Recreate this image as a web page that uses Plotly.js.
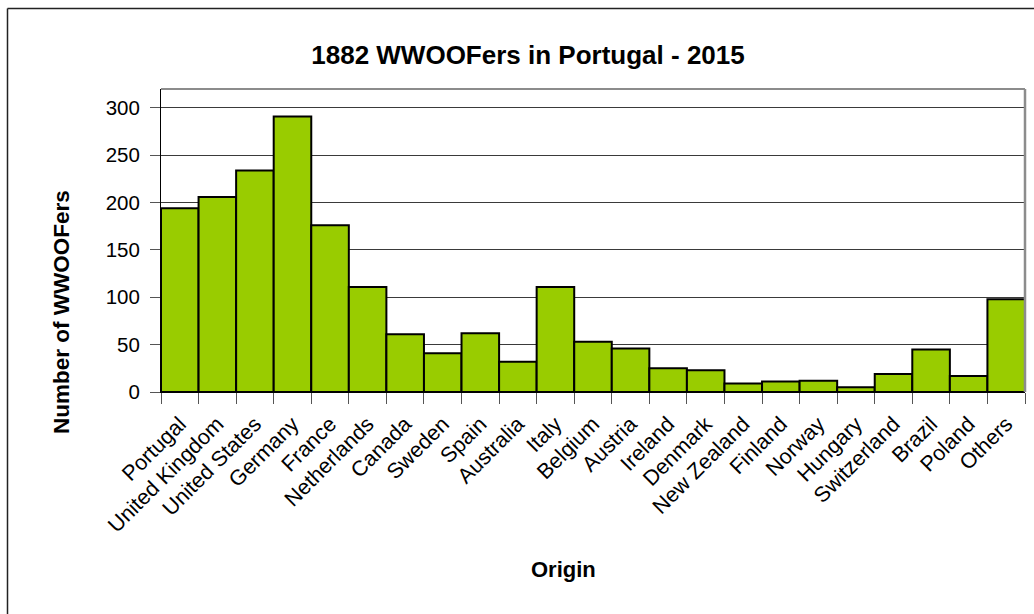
<!DOCTYPE html>
<html>
<head>
<meta charset="utf-8">
<script src="https://cdn.plot.ly/plotly-3.0.1.min.js"></script>
<style>html,body{margin:0;padding:0;background:#fff;}#chart{width:1034px;height:614px;}</style>
</head>
<body>
<div id="chart"></div>
<script>
const countries = ["Portugal","United Kingdom","United States","Germany","France","Netherlands","Canada","Sweden","Spain","Australia","Italy","Belgium","Austria","Ireland","Denmark","New Zealand","Finland","Norway","Hungary","Switzerland","Brazil","Poland","Others"];
const wwoofers = [194,206,234,291,176,111,61,41,62,32,111,53,46,25,23,9,11,12,5,19,45,17,98];
const yTicks = [0,50,100,150,200,250,300];

const W = 1034, H = 614;
const L = 161, R = 9, T = 89, B = 222;
const pw = W - L - R, ph = H - T - B;
const px = x => (x - L) / pw;
const py = y => (H - B - y) / ph;
const FONT = "Liberation Sans, Arial, sans-serif";

const trace = {
  type: "bar",
  x: countries,
  y: wwoofers,
  marker: {color: "#99cc00", line: {color: "#000000", width: 2}},
  hoverinfo: "x+y"
};

const layout = {
  width: W, height: H,
  margin: {l: L, r: R, t: T, b: B, pad: 0},
  paper_bgcolor: "#ffffff",
  plot_bgcolor: "#ffffff",
  showlegend: false,
  bargap: 0,
  font: {family: FONT, color: "#000000", size: 20},
  title: {
    text: "<b>1882 WWOOFers in Portugal - 2015</b>",
    font: {family: FONT, size: 26, color: "#000000"},
    xref: "container", yref: "container",
    x: 528 / W, y: 1 - 55 / H, xanchor: "center", yanchor: "middle"
  },
  xaxis: {
    type: "category",
    tickson: "boundaries",
    ticks: "outside", ticklen: 11, tickwidth: 1, tickcolor: "#555555",
    tickangle: -45,
    ticklabelstandoff: 10,
    tickfont: {family: FONT, size: 21.5, color: "#000000"},
    showgrid: false,
    showline: true, linecolor: "#000000", linewidth: 1,
    zeroline: false,
    fixedrange: true
  },
  yaxis: {
    range: [0, 320],
    tickvals: yTicks,
    ticktext: yTicks.map(String),
    ticks: "outside", ticklen: 10, tickwidth: 1, tickcolor: "#555555",
    ticklabelstandoff: 6,
    tickfont: {family: FONT, size: 20.5, color: "#000000"},
    showgrid: true, gridcolor: "#3a3a3a", gridwidth: 1,
    showline: true, linecolor: "#000000", linewidth: 1,
    zeroline: false,
    fixedrange: true
  },
  shapes: [
    {type: "line", xref: "paper", yref: "paper", x0: px(7.5), x1: px(1040), y0: py(8.5), y1: py(8.5), line: {color: "#222222", width: 1.5}},
    {type: "line", xref: "paper", yref: "paper", x0: px(7.5), x1: px(7.5), y0: py(8.5), y1: py(620), line: {color: "#222222", width: 1.5}},
    {type: "line", xref: "paper", yref: "paper", x0: 0, x1: 1, y0: 1, y1: 1, line: {color: "#8c8c8c", width: 2}},
    {type: "line", xref: "paper", yref: "paper", x0: 1, x1: 1, y0: 0, y1: 1, line: {color: "#8c8c8c", width: 2.5}}
  ],
  annotations: [
    {text: "<b>Number of WWOOFers</b>", xref: "paper", yref: "paper", x: px(61), y: py(312),
     textangle: -90, showarrow: false, xanchor: "center", yanchor: "middle",
     font: {family: FONT, size: 22.5, color: "#000000"}},
    {text: "<b>Origin</b>", xref: "paper", yref: "paper", x: px(563), y: py(569),
     showarrow: false, xanchor: "center", yanchor: "middle",
     font: {family: FONT, size: 22, color: "#000000"}}
  ]
};

Plotly.newPlot("chart", [trace], layout, {displayModeBar: false, staticPlot: true});
</script>
</body>
</html>
